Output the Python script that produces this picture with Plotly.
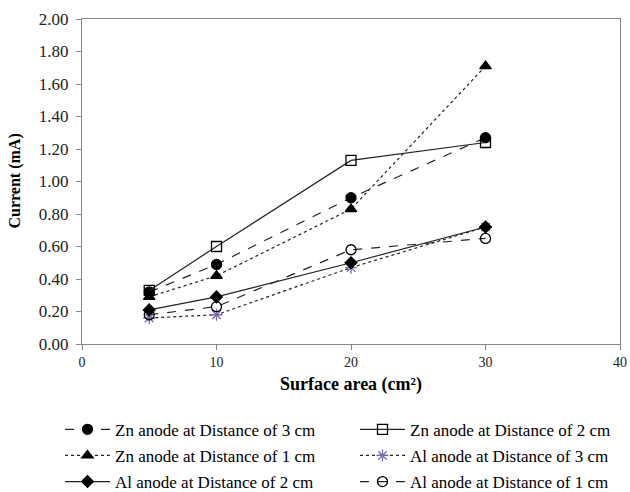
import plotly.graph_objects as go

area = [5, 10, 20, 30]
zn_3cm = [0.32, 0.49, 0.90, 1.27]
zn_2cm = [0.33, 0.60, 1.13, 1.24]
zn_1cm = [0.29, 0.42, 0.83, 1.71]
al_3cm = [0.16, 0.18, 0.47, 0.72]
al_2cm = [0.21, 0.29, 0.50, 0.72]
al_1cm = [0.18, 0.23, 0.58, 0.65]

names = ["Zn anode at Distance of 3 cm", "Zn anode at Distance of 2 cm",
         "Zn anode at Distance of 1 cm", "Al anode at Distance of 3 cm",
         "Al anode at Distance of 2 cm", "Al anode at Distance of 1 cm"]
series = [zn_3cm, zn_2cm, zn_1cm, al_3cm, al_2cm, al_1cm]
dashes = ["dash", "solid", "dot", "dot", "solid", "dash"]
symbols = ["circle", "square-open", "triangle-up", "asterisk-open", "diamond", "circle-open"]
mcolors = ["black", "black", "black", "#7b68b0", "black", "black"]
sizes = [10, 10, 10, 10, 9, 10]
legend_ids = ["legend", "legend2", "legend", "legend2", "legend", "legend2"]

serif = "Liberation Serif, Times New Roman, serif"

fig = go.Figure()
for i, (n, s, d, sym, mc, sz, lg) in enumerate(zip(names, series, dashes, symbols, mcolors, sizes, legend_ids)):
    fig.add_trace(go.Scatter(
        x=area, y=s, name=n, mode="lines+markers",
        line=dict(color="#222222", width=1.2, dash=d),
        marker=dict(symbol=sym, size=sz, color=mc,
                    line=dict(color=mc, width=1.3)),
        legend=lg, legendgroup=f"g{i}",
    ))

leg_common = dict(
    orientation="v", xref="container", yref="container",
    y=0.163, xanchor="left", yanchor="top",
    font=dict(family=serif, size=17, color="black"),
    tracegroupgap=1, itemwidth=45, bgcolor="rgba(0,0,0,0)",
)

fig.update_layout(
    width=630, height=492,
    margin=dict(l=82, r=10, t=19, b=148, autoexpand=False),
    plot_bgcolor="white", paper_bgcolor="white",
    font=dict(family=serif, size=14, color="#222222"),
    showlegend=True,
    legend=dict(x=60 / 630, **leg_common),
    legend2=dict(x=355 / 630, **leg_common),
    annotations=[dict(
        text="<b>Current (mA)</b>", textangle=-90,
        xref="paper", yref="paper", x=-68 / 538, y=0.5,
        xanchor="center", yanchor="middle", showarrow=False,
        font=dict(family=serif, size=16, color="black"),
    )],
)
fig.update_xaxes(
    range=[0, 40], tickvals=[0, 10, 20, 30, 40],
    tickfont=dict(family=serif, size=14),
    showline=True, linecolor="#888888", linewidth=1, mirror=True,
    ticks="outside", ticklen=5, tickcolor="#888888",
    showgrid=False, zeroline=False,
    title=dict(text="Surface area (cm²)", standoff=8,
               font=dict(family=serif, size=18, color="black", weight="bold")),
)
fig.update_yaxes(
    range=[0, 2.0], tickvals=[0, 0.2, 0.4, 0.6, 0.8, 1.0, 1.2, 1.4, 1.6, 1.8, 2.0],
    tickformat=".2f",
    tickfont=dict(family=serif, size=17), ticklabelstandoff=4,
    showline=True, linecolor="#888888", linewidth=1, mirror=True,
    ticks="outside", ticklen=5, tickcolor="#888888",
    showgrid=False, zeroline=False,
)

fig.write_html("out.html", config={"displayModeBar": False},
               post_script="document.body.style.margin='0';document.body.style.overflow='hidden';")
